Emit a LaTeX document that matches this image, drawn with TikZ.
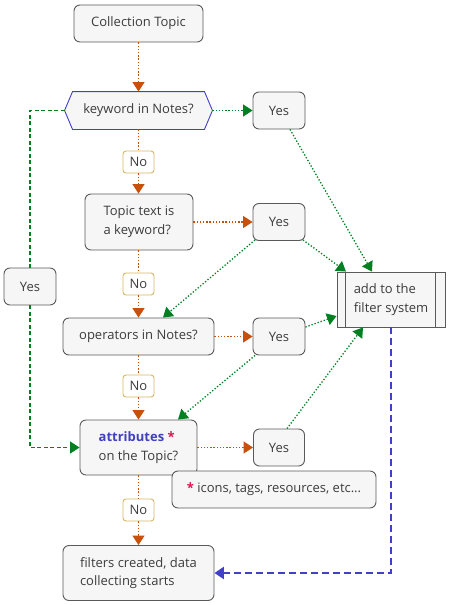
\documentclass[tikz,border=0pt]{standalone}
\usepackage{fontspec}
\setmainfont{Open Sans}
\usetikzlibrary{arrows.meta,calc}
\definecolor{orng}{RGB}{200,80,10}
\definecolor{grn}{RGB}{0,128,32}
\definecolor{blu}{RGB}{64,64,200}
\definecolor{bord}{RGB}{90,90,90}
\definecolor{boxfill}{RGB}{246,246,246}
\definecolor{txt}{RGB}{60,60,60}
\definecolor{nobord}{RGB}{214,184,96}
\definecolor{attr}{RGB}{64,64,192}
\definecolor{star}{RGB}{220,20,80}
\tikzset{
  box/.style={draw=bord, line width=0.9pt, fill=boxfill, rounded corners=6pt, text=txt, font=\fontsize{13}{18.5}\selectfont, inner sep=0pt, align=left},
  nobox/.style={draw=nobord, line width=0.9pt, fill=white, rounded corners=3pt, text=txt, font=\fontsize{13}{15}\selectfont, inner sep=0pt, minimum width=31pt, minimum height=22pt},
  tip/.style={-{Triangle[length=9.5pt,width=12pt]}},
  odot/.style={draw=orng, line width=1.3pt, dash pattern=on 1.3pt off 1.9pt},
  odota/.style={odot, tip, orng},
  gdot/.style={draw=grn, line width=1.3pt, dash pattern=on 1.3pt off 1.9pt},
  gdota/.style={gdot, tip, grn},
  gdash/.style={draw=grn, line width=1.3pt, dash pattern=on 4pt off 2.5pt},
  bdash/.style={draw=blu, line width=2.8pt, dash pattern=on 7pt off 4pt, -{Triangle[length=9.5pt,width=12pt]}, blu},
}
\begin{document}
\begin{tikzpicture}[x=1pt,y=-1pt]
\useasboundingbox (0,0) rectangle (448,605);
% nodes
\node[box, minimum width=129pt, minimum height=37pt] (ct) at (138.5,23.5) {Collection Topic};
\node[box, draw=none, fill=none, minimum width=147pt, minimum height=37pt] (kw) at (138.5,110.5) {};
\fill[boxfill] (kw.west) -- ([xshift=8pt]kw.north west) -- ([xshift=-8pt]kw.north east) -- (kw.east) -- ([xshift=-8pt]kw.south east) -- ([xshift=8pt]kw.south west) -- cycle;
\draw[blu, line width=0.9pt] (kw.west) -- ([xshift=8pt]kw.north west) -- ([xshift=-8pt]kw.north east) -- (kw.east) -- ([xshift=-8pt]kw.south east) -- ([xshift=8pt]kw.south west) -- cycle;
\node[text=txt, font=\fontsize{13}{18.5}\selectfont] (kwt) at (kw.center) {keyword in Notes?};
\node[box, minimum width=52pt, minimum height=37pt] (y1) at (279,110.5) {Yes};
\node[nobox] (no1) at (138.5,162) {No};
\node[box, minimum width=108pt, minimum height=56pt] (tt) at (139,222) {Topic text is\\a keyword?};
\node[box, minimum width=52pt, minimum height=37pt] (y2) at (279,222) {Yes};
\node[nobox] (no2) at (138.5,284) {No};
\node[box, minimum width=151pt, minimum height=37pt] (op) at (138.5,336.5) {operators in Notes?};
\node[box, minimum width=52pt, minimum height=37pt] (y3) at (279,336.5) {Yes};
\node[box, minimum width=52pt, minimum height=37pt] (yl) at (30,286.5) {Yes};
\node[box, rounded corners=0pt, minimum width=108pt, minimum height=55pt] (add) at (391,299.5) {add to the\\filter system};
\draw[bord, line width=0.9pt] ([xshift=9pt]add.north west) -- ([xshift=9pt]add.south west);
\draw[bord, line width=0.9pt] ([xshift=-10pt]add.north east) -- ([xshift=-10pt]add.south east);
\node[nobox] (no3) at (138.5,386) {No};
\node[box, minimum width=117pt, minimum height=55pt] (at) at (138.5,447.5) {\textcolor{attr}{\textbf{attributes}} \textcolor{star}{\textbf{*}}\\on the Topic?};
\node[box, minimum width=51pt, minimum height=37pt] (y4) at (279,447.5) {Yes};
\node[box, minimum width=204pt, minimum height=37pt] (note) at (274,489.5) {\textcolor{star}{\textbf{*}} icons, tags, resources, etc...};
\node[nobox] (no4) at (138.5,510) {No};
\node[box, minimum width=151pt, minimum height=55pt] (fc) at (138.5,573) {filters created, data\\collecting starts};
% orange dotted
\draw[odota] (ct.south) -- (kw.south |- kw.north);
\draw[odot] (kw.south) -- (no1.north);
\draw[odota] (no1.south) -- (tt.north -| no1.south);
\draw[odota] (tt.east) -- (y2.west);
\draw[odot] (tt.south -| no2.north) -- (no2.north);
\draw[odota] (no2.south) -- (op.north);
\draw[odota] (op.east) -- (y3.west);
\draw[odot] (op.south) -- (no3.north);
\draw[odota] (no3.south) -- (at.north);
\draw[odota] (at.east) -- (y4.west);
\draw[odot] (at.south) -- (no4.north);
\draw[odota] (no4.south) -- (fc.north);
% green dotted
\draw[gdota] (kw.east) -- (y1.west);
\draw[gdota] ([xshift=11pt]y1.south) -- ([xshift=-19pt]add.north);
\draw[gdota] ([xshift=24pt,yshift=1pt]y2.south) -- ([xshift=-45pt]add.north);
\draw[gdota] ([xshift=-24pt,yshift=1pt]y2.south) -- ([xshift=24.5pt]op.north);
\draw[gdota] ([yshift=9.5pt]y3.east) -- ([yshift=-16.5pt]add.west);
\draw[gdota] ([xshift=-24pt]y3.south) -- ([xshift=39.5pt]at.north);
\draw[gdota] ([xshift=8pt]y4.north) -- ([xshift=-28pt]add.south);
% green dashed
\draw[gdash] (kw.west) -| (yl.north);
\draw[gdash, tip, grn] (yl.south) |- (at.west);
% blue dashed
\draw[bdash] (add.south) |- (fc.east);
\end{tikzpicture}
\end{document}
